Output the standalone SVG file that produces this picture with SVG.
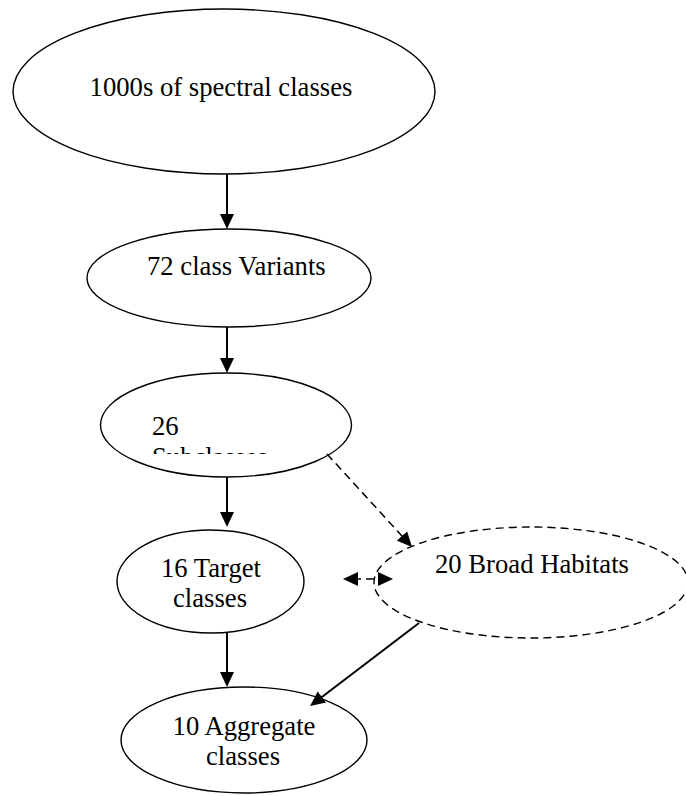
<svg xmlns="http://www.w3.org/2000/svg" width="686" height="796" viewBox="0 0 686 796">
<style>
.node{fill:#fff;stroke:#000;stroke-width:1.4}
.dash{stroke-dasharray:8 5}
.lbl{font-family:"Liberation Serif","Times New Roman",serif;font-size:26.67px;fill:#000}
.mid{text-anchor:middle}
.con{fill:none;stroke:#000;stroke-width:2}
.con.dash{stroke-width:1.5;stroke-dasharray:8 5}
</style>
<defs>
<marker id="ah" markerUnits="userSpaceOnUse" markerWidth="16" markerHeight="15" refX="5" refY="7" orient="auto-start-reverse" viewBox="0 0 16 14">
<path d="M0,0 L15,7 L0,14 z" fill="#000"/>
</marker>
<clipPath id="clipSub"><rect x="100" y="380" width="250" height="74"/></clipPath>
</defs>
<rect width="686" height="796" fill="#fff"/>
<g id="n1">
<ellipse class="node" cx="224" cy="91.5" rx="211" ry="82.5"/>
<text class="lbl mid" x="221" y="96">1000s of spectral classes</text>
</g>
<g id="n2">
<ellipse class="node" cx="229" cy="278" rx="142" ry="49"/>
<text class="lbl" x="147" y="275">72 class Variants</text>
</g>
<g id="n3">
<ellipse class="node" cx="226" cy="425" rx="125.5" ry="52"/>
<g clip-path="url(#clipSub)">
<text class="lbl" x="152" y="435">26</text>
<text class="lbl" x="152" y="466">Subclasses</text>
</g>
</g>
<g id="n4">
<ellipse class="node" cx="210.5" cy="581.5" rx="93.5" ry="51.5"/>
<text class="lbl mid" x="211" y="577">16 Target</text>
<text class="lbl mid" x="210" y="607">classes</text>
</g>
<g id="n5">
<ellipse class="node" cx="244" cy="740" rx="123" ry="53"/>
<text class="lbl mid" x="244" y="735">10 Aggregate</text>
<text class="lbl mid" x="243" y="765">classes</text>
</g>
<g id="n6">
<ellipse class="node dash" cx="531" cy="582.5" rx="157" ry="55.5"/>
<text class="lbl" x="435" y="573">20 Broad Habitats</text>
</g>
<g id="connectors">
<path class="con" d="M227,174 L227,219" marker-end="url(#ah)"/>
<path class="con" d="M227,327 L227,363" marker-end="url(#ah)"/>
<path class="con" d="M227,477 L227,517" marker-end="url(#ah)"/>
<path class="con" d="M227,633 L227,677" marker-end="url(#ah)"/>
<path class="con dash" d="M327,454 L405.3,539.6" marker-end="url(#ah)"/>
<path class="con dash" d="M353,579 L383,579" marker-start="url(#ah)" marker-end="url(#ah)"/>
<path class="con" d="M419,623 L318,700" marker-end="url(#ah)"/>
</g>
</svg>
